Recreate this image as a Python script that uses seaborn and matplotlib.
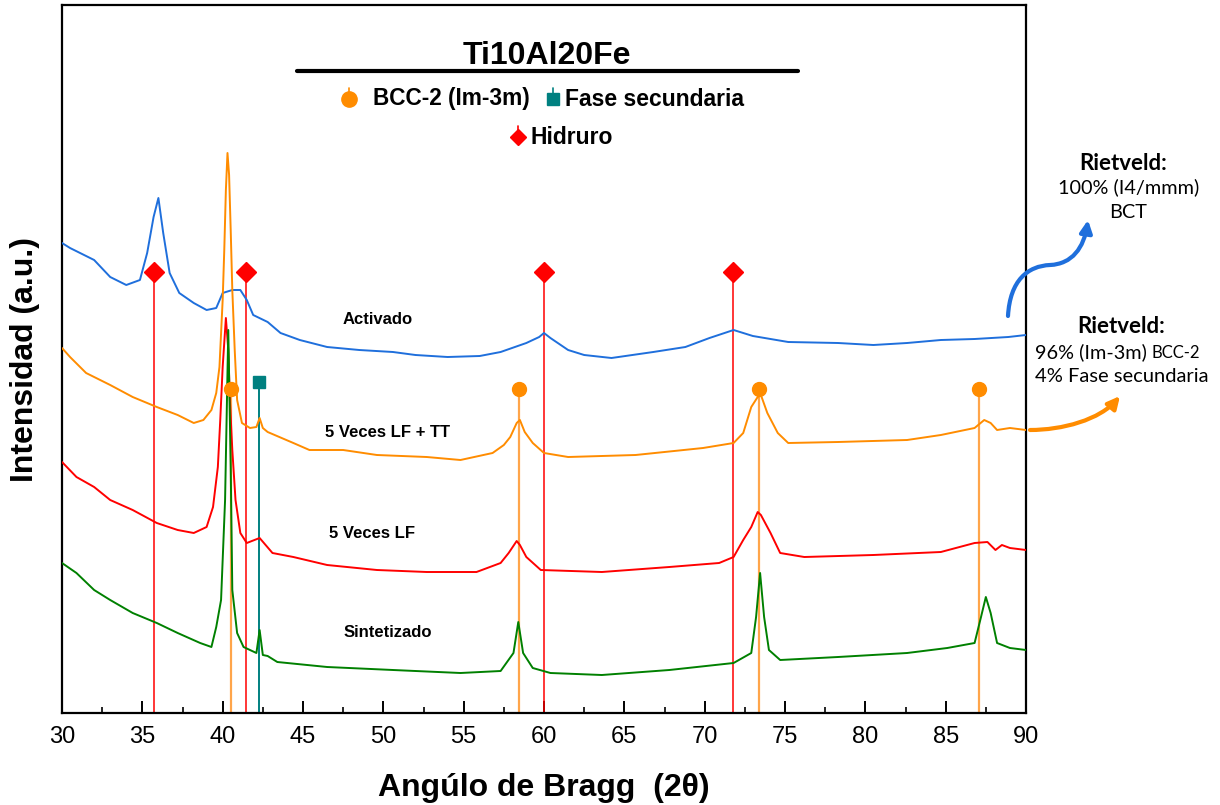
import matplotlib
matplotlib.use("Agg")
import matplotlib.pyplot as plt
import seaborn as sns
import numpy as np
from matplotlib.lines import Line2D
from matplotlib.path import Path
from matplotlib.patches import FancyArrowPatch

# ---------------- data (2theta, intensity a.u.) ----------------
act_x = [30.0, 30.5, 31.0, 32.0, 33.0, 34.0, 34.85, 35.3, 35.7, 36.0, 36.3, 36.7, 37.3, 38.2, 39.0,
         39.6, 40.0, 40.6, 41.1, 41.5, 41.9, 42.8, 43.6, 44.8, 46.5, 48.5, 50.6, 52.0, 54.0, 56.0,
         57.3, 58.9, 59.7, 60.0, 60.4, 61.5, 62.5, 64.2, 66.8, 68.8, 70.3, 71.8, 73.0, 75.2, 78.3,
         80.5, 82.6, 84.7, 86.8, 88.9, 90.0]
act_y = [470, 465, 461, 453, 436, 428, 433, 460, 496, 515, 480, 440, 420, 410, 403,
         405, 420, 423, 423, 413, 398, 391, 380, 373, 366, 363, 361, 358, 356, 357,
         361, 370, 376, 380, 375, 363, 358, 355, 361, 366, 375, 383, 377, 371, 370,
         368, 370, 373, 374, 376, 378]

tt_x = [30.0, 30.5, 31.5, 33.0, 34.4, 35.9, 37.2, 38.2, 38.8, 39.3, 39.6, 39.8, 40.0, 40.1, 40.2,
        40.3, 40.4, 40.5, 40.6, 40.75, 40.9, 41.2, 41.7, 42.1, 42.3, 42.5, 42.8, 44.4, 45.4, 47.5,
        49.6, 52.7, 54.8, 56.8, 57.5, 57.9, 58.3, 58.5, 58.8, 59.3, 60.0, 61.5, 65.7, 69.9, 71.8,
        72.4, 72.9, 73.3, 73.5, 73.9, 74.55, 75.2, 78.3, 82.6, 84.7, 86.8, 87.4, 87.8, 88.2, 89.0,
        90.0]
tt_y = [365, 356, 340, 328, 316, 306, 298, 290, 293, 303, 320, 346, 413, 463, 523,
        560, 538, 483, 423, 363, 313, 290, 285, 286, 295, 285, 281, 270, 263, 263,
        258, 256, 253, 260, 268, 276, 290, 293, 281, 270, 260, 256, 258, 265, 270,
        280, 306, 316, 318, 300, 280, 270, 271, 273, 278, 285, 293, 290, 283, 285,
        283]

lf_x = [30.0, 30.9, 32.0, 33.0, 34.4, 35.9, 37.2, 38.2, 39.0, 39.4, 39.7, 39.85, 40.0, 40.2, 40.35,
        40.45, 40.6, 40.8, 41.1, 41.5, 42.3, 43.1, 44.4, 46.5, 49.6, 52.7, 55.8, 57.3, 57.8, 58.3,
        58.5, 58.9, 59.8, 63.6, 67.8, 70.9, 71.8, 72.4, 72.9, 73.3, 73.5, 74.1, 74.7, 76.2, 80.5,
        84.7, 86.8, 87.6, 88.1, 88.5, 89.0, 90.0]
lf_y = [251, 236, 226, 213, 203, 190, 183, 180, 186, 206, 246, 293, 346, 395, 363,
        313, 263, 213, 180, 170, 175, 160, 156, 148, 143, 141, 141, 150, 160, 172,
        168, 156, 143, 141, 146, 150, 156, 173, 186, 201, 198, 180, 160, 156, 158,
        161, 170, 171, 163, 168, 165, 163]

sin_x = [30.0, 30.9, 32.0, 33.0, 34.4, 35.9, 37.2, 38.6, 39.3, 39.6, 39.9, 40.15, 40.35, 40.5, 40.6,
         40.9, 41.3, 42.1, 42.3, 42.5, 42.8, 43.4, 46.5, 50.6, 54.8, 57.3, 58.1, 58.4, 58.7, 59.3,
         60.4, 63.6, 67.8, 71.8, 72.9, 73.2, 73.45, 73.7, 74.0, 74.7, 78.3, 82.6, 85.1, 86.8, 87.2,
         87.5, 87.8, 88.2, 89.0, 90.0]
sin_y = [150, 140, 123, 113, 100, 90, 80, 70, 66, 86, 113, 213, 383, 246, 123,
         80, 66, 60, 83, 58, 57, 51, 46, 43, 40, 42, 60, 91, 60, 45,
         40, 38, 43, 50, 60, 96, 140, 96, 63, 53, 56, 60, 65, 70, 96,
         116, 100, 70, 65, 63]

# phase reference positions (2theta) and stick heights
hidruro_pos = [35.72, 41.45, 60.0, 71.75]
hidruro_h = 441
bcc_pos = [40.52, 58.44, 73.37, 87.06]
bcc_h = 324
sec_pos = [42.26]
sec_h = 331

curve_names = ["Activado", "5 Veces LF + TT", "5 Veces LF", "Sintetizado"]
curve_label_x = [49.66, 50.29, 49.29, 50.29]
curve_label_y = [393, 281, 179, 81]
x_ticks = [30, 35, 40, 45, 50, 55, 60, 65, 70, 75, 80, 85, 90]

# ---------------- style ----------------
sns.set_theme(style="white")
plt.rcParams['font.family'] = ['Liberation Sans', 'DejaVu Sans']
plt.rcParams['text.color'] = 'black'
plt.rcParams['axes.labelcolor'] = 'black'
plt.rcParams['xtick.color'] = 'black'
plt.rcParams['ytick.color'] = 'black'

C_BLUE = "#1f6fdc"
C_ORANGE = "#ff8c00"
C_RED = "#ff0000"
C_GREEN = "#008000"
C_TEAL = "#008080"
C_LORANGE = "#ffa54a"

W, H = 1220, 805
fig = plt.figure(figsize=(W / 100, H / 100), dpi=100)
ax = fig.add_axes([62 / W, (H - 713) / H, (1026 - 62) / W, (713 - 5) / H])

def fx(px):
    return px / W

def fy(py):
    return 1 - py / H

# reference sticks
for p in hidruro_pos:
    ax.plot([p, p], [0, hidruro_h], color=C_RED, lw=1.1, zorder=1)
for p in bcc_pos:
    ax.plot([p, p], [0, bcc_h], color=C_LORANGE, lw=1.6, zorder=1)
for p in sec_pos:
    ax.plot([p, p], [0, sec_h], color=C_TEAL, lw=1.4, zorder=1)

# curves
for xs, ys, c in [(act_x, act_y, C_BLUE), (tt_x, tt_y, C_ORANGE),
                  (lf_x, lf_y, C_RED), (sin_x, sin_y, C_GREEN)]:
    sns.lineplot(x=xs, y=ys, color=c, lw=1.4, ax=ax, zorder=3)

# stick markers
ax.plot(hidruro_pos, [hidruro_h] * len(hidruro_pos), 'D', color=C_RED, ms=10, zorder=5, mec=C_RED)
ax.plot(bcc_pos, [bcc_h] * len(bcc_pos), 'o', color=C_ORANGE, ms=10, zorder=5, mec=C_ORANGE)
ax.plot(sec_pos, [sec_h] * len(sec_pos), 's', color=C_TEAL, ms=9, zorder=5, mec=C_TEAL)

# curve labels
for name, lx, ly in zip(curve_names, curve_label_x, curve_label_y):
    ax.text(lx, ly, name, ha='center', va='center', fontsize=12, fontweight='bold', color='black', zorder=6)

ax.set_xlim(30, 90)
ax.set_ylim(0, 708)
ax.set_xticks(x_ticks)
ax.set_xticks(np.arange(32.5, 90, 5), minor=True)
ax.set_yticks([])
ax.tick_params(axis='x', which='major', direction='in', length=9, width=1.4, color='black',
               labelsize=17, pad=9, bottom=True, top=False, labelcolor='black')
ax.tick_params(axis='x', which='minor', direction='in', length=4.5, width=1.2, color='black',
               bottom=True, top=False)
for s in ax.spines.values():
    s.set_color('black')
    s.set_linewidth(1.6)
ax.set_xlabel("")
ax.set_ylabel("")

# axis labels
fig.text(fx(544), fy(788), "Angúlo de Bragg  (2θ)", ha='center', va='center',
         fontsize=23, fontweight='bold')
fig.text(fx(25), fy(359), "Intensidad (a.u.)", ha='center', va='center', rotation=90,
         fontsize=23, fontweight='bold')

# in-plot legend / title
fig.text(fx(547), fy(56), "Ti10Al20Fe", ha='center', va='center', fontsize=23, fontweight='bold')
fig.add_artist(Line2D([fx(297), fx(798)], [fy(71), fy(71)], color='black', lw=3,
                      transform=fig.transFigure))

def leg_marker(px, py, marker, color, ms):
    fig.add_artist(Line2D([fx(px), fx(px)], [fy(py - 11), fy(py - 4)], color=color, lw=1.2,
                          transform=fig.transFigure))
    fig.add_artist(Line2D([fx(px)], [fy(py)], marker=marker, color=color, ms=ms, mec=color,
                          linestyle='None', transform=fig.transFigure))

leg_marker(349, 99, 'o', C_ORANGE, 11)
fig.text(fx(373), fy(99), "BCC-2 (Im-3m)", ha='left', va='center', fontsize=16.3, fontweight='bold')
leg_marker(553, 99, 's', C_TEAL, 9)
fig.text(fx(565), fy(99), "Fase secundaria", ha='left', va='center', fontsize=16.5, fontweight='bold')
leg_marker(518, 137, 'D', C_RED, 8)
fig.text(fx(530), fy(137), "Hidruro", ha='left', va='center', fontsize=16.5, fontweight='bold')

# Rietveld annotations
fam2 = ['Lato', 'DejaVu Sans']
fig.text(fx(1123), fy(163), "Rietveld:", ha='center', va='center', fontsize=16, fontweight='bold', family=fam2)
fig.text(fx(1129), fy(187), "100% (I4/mmm)", ha='center', va='center', fontsize=14.3, family=fam2)
fig.text(fx(1128), fy(212), "BCT", ha='center', va='center', fontsize=14.3, family=fam2)
fig.text(fx(1121), fy(326), "Rietveld:", ha='center', va='center', fontsize=16, fontweight='bold', family=fam2)
t1 = fig.text(fx(1035), fy(352), "96% (Im-3m)", ha='left', va='center', fontsize=14.3, family=fam2)
fig.canvas.draw()
bb = t1.get_window_extent(renderer=fig.canvas.get_renderer())
fig.text((bb.x1 + 5) / W, fy(353), "BCC-2", ha='left', va='center', fontsize=12, family=fam2)
fig.text(fx(1122), fy(376), "4% Fase secundaria", ha='center', va='center', fontsize=14.5, family=fam2)

# curved arrows
blue_path = Path([(fx(1008), fy(316)), (fx(1010), fy(280)), (fx(1028), fy(266)), (fx(1050), fy(265)),
                  (fx(1072), fy(264)), (fx(1084), fy(248)), (fx(1088), fy(220))],
                 [Path.MOVETO, Path.CURVE4, Path.CURVE4, Path.CURVE4,
                  Path.CURVE4, Path.CURVE4, Path.CURVE4])
fig.add_artist(FancyArrowPatch(path=blue_path, arrowstyle='-|>', mutation_scale=18, lw=3,
                               color=C_BLUE, transform=fig.transFigure))
orange_path = Path([(fx(1030), fy(430)), (fx(1062), fy(430)), (fx(1100), fy(420)), (fx(1120), fy(396))],
                   [Path.MOVETO, Path.CURVE4, Path.CURVE4, Path.CURVE4])
fig.add_artist(FancyArrowPatch(path=orange_path, arrowstyle='-|>', mutation_scale=18, lw=3,
                               color=C_ORANGE, transform=fig.transFigure))

fig.savefig("out.png", dpi=100)
